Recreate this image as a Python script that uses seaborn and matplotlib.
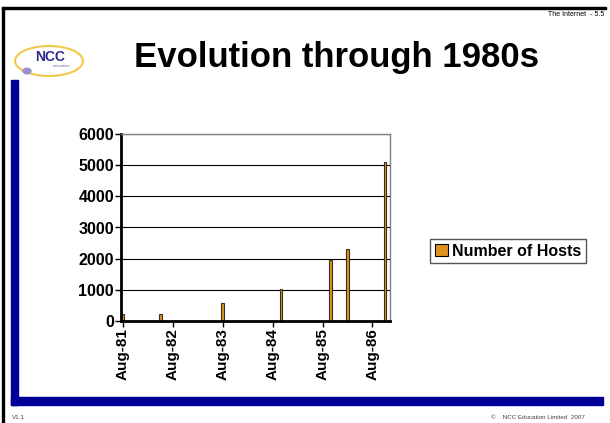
import numpy as np
import pandas as pd
import seaborn as sns
import matplotlib.pyplot as plt
import matplotlib.dates as mdates
from matplotlib.patches import Rectangle, Ellipse, Circle

# data
dates = ["1981-08-01", "1982-05-01", "1983-08-01", "1984-10-01",
         "1985-10-01", "1986-02-01", "1986-11-01"]
hosts = [213, 235, 562, 1024, 1961, 2308, 5089]
series = "Number of Hosts"
yticks = [0, 1000, 2000, 3000, 4000, 5000, 6000]
xtick_dates = ["1981-08-01", "1982-08-01", "1983-08-01",
               "1984-08-01", "1985-08-01", "1986-08-01"]

df = pd.DataFrame({"date": mdates.date2num(pd.to_datetime(dates)),
                   "hosts": hosts, "series": series})

sns.set_style("white")
plt.rcParams['font.family'] = ['Liberation Sans', 'DejaVu Sans']
plt.rcParams['text.color'] = 'black'

W, H = 610, 423
fig = plt.figure(figsize=(6.1, 4.23), dpi=100)
fig.patch.set_facecolor("white")

def fx(x):
    return x / W

def fy(y):
    return 1 - y / H

# slide decorations
navy = "#000099"
fig.add_artist(Rectangle((fx(2), 0), fx(2), fy(7), color="black"))
fig.add_artist(Rectangle((fx(2), fy(9)), fx(604), fy(7) - fy(9), color="black"))
fig.add_artist(Rectangle((fx(11), fy(405)), fx(7), fy(80) - fy(405), color=navy))
fig.add_artist(Rectangle((fx(11), fy(405)), fx(592), fy(397) - fy(405), color=navy))

# logo
fig.add_artist(Ellipse((fx(49), fy(61)), fx(68), fy(46) - fy(76), fill=False,
                       edgecolor="#f2c84b", linewidth=1.5))
fig.text(fx(50), fy(57), "NCC", fontsize=10, fontweight="bold", color="#2e2a8c",
         ha="center", va="center")
fig.text(fx(62), fy(66), "education", fontsize=3, color="#6e6ab0", ha="center", va="center")
fig.add_artist(Circle((fx(27), fy(71)), fx(4), color="#9a8fd0", transform=fig.transFigure))

fig.text(fx(604), fy(15), "The Internet  - 5.5", fontsize=5, ha="right", va="center")
fig.text(fx(337), fy(58), "Evolution through 1980s", fontsize=25, fontweight="bold",
         ha="center", va="center")
fig.text(fx(12), fy(417), "V1.1", fontsize=4.5, color="#444444", ha="left", va="center")
fig.text(fx(585), fy(417), "©    NCC Education Limited  2007", fontsize=4.5,
         color="#444444", ha="right", va="center")

# chart
ax = fig.add_axes([fx(121), fy(321), fx(390) - fx(121), fy(134) - fy(321)])
sns.barplot(data=df, x="date", y="hosts", hue="series", native_scale=True,
            palette={series: "#FF9900"}, edgecolor="#3a3020", linewidth=0.8,
            width=0.17, errorbar=None, ax=ax)

ax.set_xlim(mdates.date2num(pd.Timestamp("1981-07-18")),
            mdates.date2num(pd.Timestamp("1986-12-08")))
ax.set_ylim(0, 6000)
ax.set_yticks(yticks)
ax.set_yticklabels([str(v) for v in yticks], fontsize=11.5, fontweight="bold", color="black")
xt = mdates.date2num(pd.to_datetime(xtick_dates))
ax.set_xticks(xt)
ax.set_xticklabels([pd.Timestamp(d).strftime("%b-%y") for d in xtick_dates],
                   rotation=90, fontsize=11, fontweight="bold", color="black")
ax.set_xlabel("")
ax.set_ylabel("")
ax.yaxis.grid(True, color="black", linewidth=0.8)
ax.set_axisbelow(True)
ax.tick_params(axis="both", direction="out", length=4, width=1, color="black", pad=1)
ax.tick_params(left=True, bottom=True)
for s in ["top", "right"]:
    ax.spines[s].set_color("#808080")
    ax.spines[s].set_linewidth(1)
for s in ["left", "bottom"]:
    ax.spines[s].set_color("black")
    ax.spines[s].set_linewidth(2)

ax.legend(loc="center left", bbox_to_anchor=((430 - 121) / (390 - 121), (321 - 251) / (321 - 134)),
          frameon=True, fancybox=False, edgecolor="#555555", framealpha=1,
          prop={"weight": "bold", "size": 11.5}, handlelength=0.8, handleheight=0.8,
          handletextpad=0.3, borderpad=0.3, borderaxespad=0)
ax.legend_.get_frame().set_linewidth(1)
ax.legend_.legend_handles[0].set_edgecolor("black")

fig.savefig("out.png", dpi=100)
